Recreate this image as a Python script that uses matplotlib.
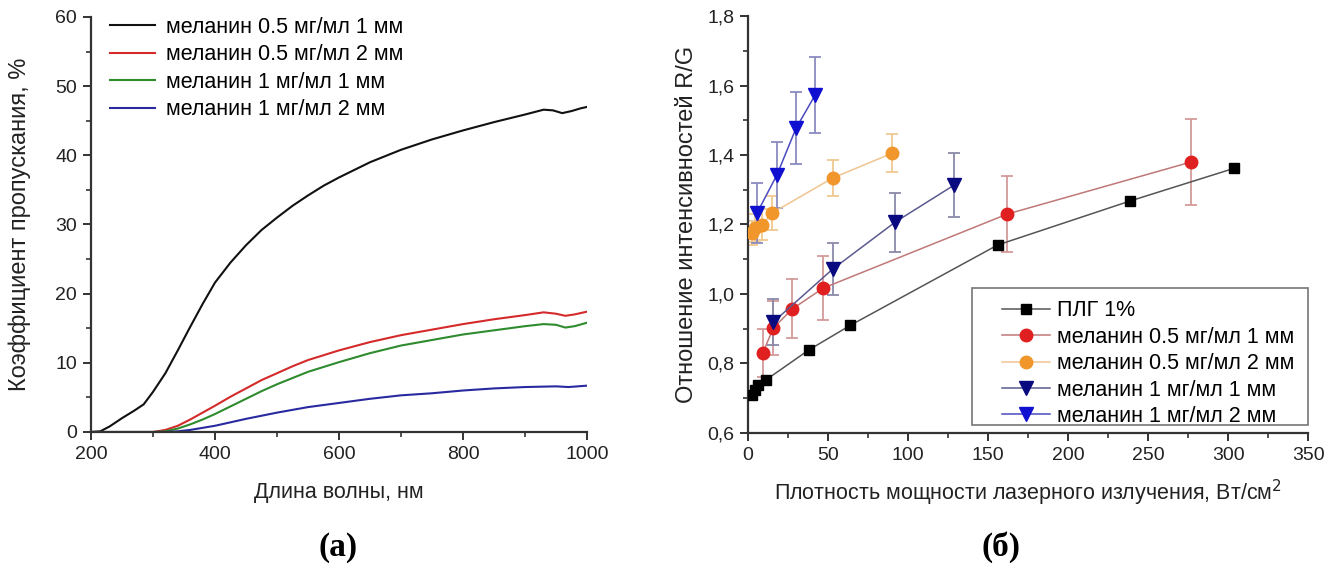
import matplotlib
matplotlib.use("Agg")
import matplotlib.pyplot as plt
from matplotlib.ticker import MultipleLocator, FuncFormatter
from matplotlib.patches import Rectangle

plt.rcParams['font.family'] = ['Liberation Sans', 'DejaVu Sans']

# ---- Panel (a): transmission spectra ----
wl_black = [200, 215, 230, 250, 270, 285, 300, 320, 340, 360, 380, 400, 425, 450, 475, 500,
            525, 550, 575, 600, 650, 700, 750, 800, 850, 900, 930, 945, 960, 975, 990, 1000]
t_black = [0, 0.1, 0.8, 2.0, 3.1, 4.0, 5.8, 8.5, 11.8, 15.2, 18.5, 21.6, 24.5, 27.0, 29.2, 31.0,
           32.7, 34.2, 35.6, 36.8, 39.0, 40.8, 42.3, 43.6, 44.8, 45.9, 46.6, 46.5, 46.1, 46.4, 46.8, 47.0]

wl_red = [200, 300, 320, 340, 360, 380, 400, 425, 450, 475, 500, 525, 550, 575, 600, 650, 700,
          750, 800, 850, 900, 930, 950, 965, 980, 1000]
t_red = [0, 0, 0.3, 0.9, 1.8, 2.8, 3.8, 5.1, 6.3, 7.5, 8.5, 9.5, 10.4, 11.1, 11.8, 13.0, 14.0,
         14.8, 15.6, 16.3, 16.9, 17.3, 17.1, 16.8, 17.0, 17.4]

wl_green = [200, 300, 320, 340, 360, 380, 400, 425, 450, 475, 500, 525, 550, 575, 600, 650, 700,
            750, 800, 850, 900, 930, 950, 965, 980, 1000]
t_green = [0, 0, 0.1, 0.5, 1.1, 1.8, 2.6, 3.7, 4.8, 5.9, 6.9, 7.8, 8.7, 9.4, 10.1, 11.4, 12.5,
           13.3, 14.1, 14.7, 15.3, 15.6, 15.5, 15.1, 15.3, 15.8]

wl_blue = [200, 300, 320, 340, 360, 380, 400, 450, 500, 550, 600, 650, 700, 750, 800, 850, 900,
           950, 970, 1000]
t_blue = [0, 0, 0, 0.1, 0.3, 0.6, 0.9, 1.9, 2.8, 3.6, 4.2, 4.8, 5.3, 5.6, 6.0, 6.3, 6.5,
          6.6, 6.5, 6.7]

labels_a = ['меланин 0.5 мг/мл 1 мм', 'меланин 0.5 мг/мл 2 мм',
            'меланин 1 мг/мл 1 мм', 'меланин 1 мг/мл 2 мм']

# ---- Panel (б): R/G ratio ----
plg_x = [2.5, 4.4, 6.3, 11.3, 38, 64, 156, 239, 304]
plg_y = [0.709, 0.724, 0.738, 0.753, 0.839, 0.910, 1.141, 1.268, 1.362]

m05_1_x = [9.2, 15.8, 27.7, 47, 162, 277]
m05_1_y = [0.830, 0.902, 0.957, 1.017, 1.230, 1.380]
m05_1_e = [0.07, 0.078, 0.085, 0.092, 0.11, 0.125]

m05_2_x = [2.5, 4.4, 8.8, 15, 53, 90]
m05_2_y = [1.176, 1.190, 1.199, 1.233, 1.334, 1.405]
m05_2_e = [0.035, 0.04, 0.045, 0.048, 0.053, 0.055]

m1_1_x = [15.7, 53, 92, 129]
m1_1_y = [0.919, 1.072, 1.207, 1.314]
m1_1_e = [0.067, 0.075, 0.085, 0.093]

m1_2_x = [5.6, 18, 30, 42]
m1_2_y = [1.233, 1.342, 1.477, 1.573]
m1_2_e = [0.086, 0.095, 0.103, 0.11]

labels_b = ['ПЛГ 1%', 'меланин 0.5 мг/мл 1 мм', 'меланин 0.5 мг/мл 2 мм',
            'меланин 1 мг/мл 1 мм', 'меланин 1 мг/мл 2 мм']

fig = plt.figure(figsize=(13.36, 5.76), dpi=100)
spine_c = '#333333'
txt_c = '#222222'

def style_axes(ax):
    for s in ['top', 'right']:
        ax.spines[s].set_visible(False)
    for s in ['left', 'bottom']:
        ax.spines[s].set_color(spine_c)
        ax.spines[s].set_linewidth(1.6)
    ax.tick_params(which='major', direction='out', length=6, width=1.4, colors=spine_c,
                   labelsize=14, labelcolor=txt_c, pad=4)
    ax.tick_params(which='minor', direction='out', length=3.5, width=1.2, colors=spine_c)

# Panel (a)
axa = fig.add_axes([0.0681, 0.25, 0.3713, 0.7205])
style_axes(axa)
axa.plot(wl_black, t_black, color='#111111', lw=1.5, label=labels_a[0])
axa.plot(wl_red, t_red, color='#d42a2a', lw=1.5, label=labels_a[1])
axa.plot(wl_green, t_green, color='#2e8b2e', lw=1.5, label=labels_a[2])
axa.plot(wl_blue, t_blue, color='#2a2aa0', lw=1.5, label=labels_a[3])
axa.set_xlim(200, 1000)
axa.set_ylim(0, 60)
axa.xaxis.set_major_locator(MultipleLocator(200))
axa.xaxis.set_minor_locator(MultipleLocator(100))
axa.yaxis.set_major_locator(MultipleLocator(10))
axa.yaxis.set_minor_locator(MultipleLocator(5))
axa.set_xlabel('Длина волны, нм', fontsize=15.5, color=txt_c)
axa.set_ylabel('Коэффициент пропускания, %', fontsize=17, color=txt_c)
axa.xaxis.set_label_coords(0.5, -0.12)
axa.yaxis.set_label_coords(-0.121, 0.5)
axa.legend(loc='upper left', frameon=False, fontsize=15.5, handlelength=2.1,
           handletextpad=0.5, borderaxespad=0.0, borderpad=0.0, labelspacing=0.3,
           bbox_to_anchor=(0.038, 1.0))

# Panel (б)
axb = fig.add_axes([0.5599, 0.2483, 0.4192, 0.7239])
style_axes(axb)

def series(ax, x, y, e, mcolor, lcolor, ecolor, marker, ms, label):
    if e is not None:
        ax.errorbar(x, y, yerr=e, fmt='none', ecolor=ecolor, elinewidth=1.3,
                    capsize=4, capthick=1.3, zorder=2)
    h, = ax.plot(x, y, color=lcolor, lw=1.1, marker=marker, ms=ms,
                 mfc=mcolor, mec=mcolor, label=label, zorder=3)
    return h

h1 = series(axb, plg_x, plg_y, None, '#000000', '#555555', None, 's', 7, labels_b[0])
h2 = series(axb, m05_1_x, m05_1_y, m05_1_e, '#e02020', '#c07878', '#d49a9a', 'o', 9, labels_b[1])
h3 = series(axb, m05_2_x, m05_2_y, m05_2_e, '#f0962a', '#f0c490', '#f0c890', 'o', 9, labels_b[2])
h4 = series(axb, m1_1_x, m1_1_y, m1_1_e, '#0a0a80', '#5a5a90', '#8a8aaa', 'v', 10, labels_b[3])
h5 = series(axb, m1_2_x, m1_2_y, m1_2_e, '#1010d0', '#4a4ac0', '#8a8ac0', 'v', 10, labels_b[4])

axb.set_xlim(0, 350)
axb.set_ylim(0.6, 1.8)
axb.xaxis.set_major_locator(MultipleLocator(50))
axb.xaxis.set_minor_locator(MultipleLocator(25))
axb.yaxis.set_major_locator(MultipleLocator(0.2))
axb.yaxis.set_minor_locator(MultipleLocator(0.1))
axb.yaxis.set_major_formatter(FuncFormatter(lambda v, p: f'{v:.1f}'.replace('.', ',')))
axb.set_xlabel('Плотность мощности лазерного излучения, Вт/см$^2$', fontsize=15.5,
               color=txt_c)
axb.set_ylabel('Отношение интенсивностей R/G', fontsize=17, color=txt_c)
axb.xaxis.set_label_coords(0.5, -0.108)
axb.yaxis.set_label_coords(-0.089, 0.5)

# legend frame drawn separately so the padding matches the reference
axb.add_patch(Rectangle((0.40, 0.019), 0.60, 0.329, transform=axb.transAxes,
                        facecolor='white', edgecolor='#777777', lw=1.2, zorder=5,
                        clip_on=False))
leg = axb.legend(handles=[h1, h2, h3, h4, h5], loc='upper left', fontsize=15.5,
                 handlelength=2.23, handletextpad=0.33, labelspacing=0.25,
                 borderaxespad=0.0, borderpad=0.0, bbox_to_anchor=(0.4536, 0.318),
                 frameon=False)
leg.set_zorder(6)

fig.text(0.253, 0.05, '(а)', fontsize=24, fontweight='bold', ha='center', va='center',
         family=['Liberation Serif', 'DejaVu Serif'])
fig.text(0.749, 0.05, '(б)', fontsize=24, fontweight='bold', ha='center', va='center',
         family=['Liberation Serif', 'DejaVu Serif'])

fig.savefig('out.png', dpi=100)
